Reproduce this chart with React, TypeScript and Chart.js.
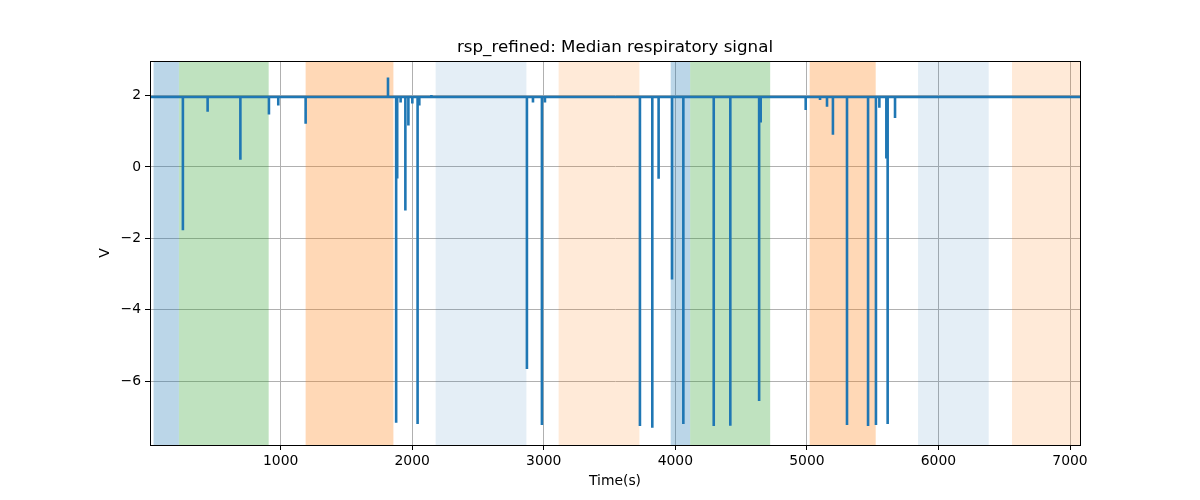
import React, { useEffect, useRef } from 'react';
import { Chart, registerables } from 'chart.js';

Chart.register(...registerables);

// time axis limits (s) and y limits (V)
const timeMin = 7;
const timeMax = 7076;
const voltMin = -7.79;
const voltMax = 2.97;

const timeTicks = [1000, 2000, 3000, 4000, 5000, 6000, 7000];
const voltTicks = [-6, -4, -2, 0, 2];

// resting level of the median signal
const baselineLevel = 1.96;

// short excursions away from the resting level
const spikeTimes = [
  257, 445, 694, 911, 982, 1190, 1816, 1878, 1886, 1912, 1948, 1971, 2001, 2041, 2054, 2146,
  2872, 2918, 2986, 3009, 3731, 3825, 3873, 3975, 4061, 4292, 4418, 4637, 4649, 4991, 5100,
  5153, 5198, 5305, 5465, 5525, 5551, 5604, 5614, 5670,
];
const spikeValues = [
  -1.77, 1.55, 0.2, 1.47, 1.72, 1.21, 2.51, -7.17, -0.32, 1.81, -1.22, 1.16, 1.78, -7.2, 1.72, 2.02,
  -5.66, 1.81, -7.23, 1.81, -7.26, -7.31, -0.33, -3.15, -7.2, -7.26, -7.25, -6.56, 1.25, 1.6, 1.88,
  1.69, 0.9, -7.23, -7.26, -7.23, 1.66, 0.24, -7.2, 1.37,
];

// shaded phases (s)
const phaseStarts = [34, 227, 1190, 2178, 3113, 3965, 4113, 5021, 5845, 6559];
const phaseEnds = [227, 909, 1857, 2868, 3727, 4113, 4721, 5523, 6382, 7076];
const phaseColors = [
  'rgba(31, 119, 180, 0.3)',
  'rgba(44, 160, 44, 0.3)',
  'rgba(255, 127, 14, 0.3)',
  'rgba(31, 119, 180, 0.12)',
  'rgba(255, 127, 14, 0.16)',
  'rgba(31, 119, 180, 0.3)',
  'rgba(44, 160, 44, 0.3)',
  'rgba(255, 127, 14, 0.3)',
  'rgba(31, 119, 180, 0.12)',
  'rgba(255, 127, 14, 0.16)',
];

const titleText = 'rsp_refined: Median respiratory signal';
const FONT = "'DejaVu Sans', sans-serif";

const formatTick = (v: number) => (v < 0 ? '\u2212' + Math.abs(v) : String(v));

// build the line table: resting level with vertical excursions
const buildSignal = () => {
  const pts: { x: number; y: number }[] = [{ x: timeMin, y: baselineLevel }];
  spikeTimes.forEach((t, i) => {
    pts.push({ x: t, y: baselineLevel });
    pts.push({ x: t, y: spikeValues[i] });
    pts.push({ x: t, y: baselineLevel });
  });
  pts.push({ x: timeMax, y: baselineLevel });
  return pts;
};

const phasePlugin = {
  id: 'phases',
  beforeDatasetsDraw(chart: any) {
    const { ctx, chartArea, scales } = chart;
    ctx.save();
    ctx.beginPath();
    ctx.rect(chartArea.left, chartArea.top, chartArea.right - chartArea.left, chartArea.bottom - chartArea.top);
    ctx.clip();
    phaseStarts.forEach((s, i) => {
      const x0 = scales.x.getPixelForValue(s);
      const x1 = scales.x.getPixelForValue(phaseEnds[i]);
      ctx.fillStyle = phaseColors[i];
      ctx.fillRect(x0, chartArea.top, x1 - x0, chartArea.bottom - chartArea.top);
    });
    ctx.restore();
  },
};

const framePlugin = {
  id: 'frame',
  afterDraw(chart: any) {
    const { ctx, chartArea } = chart;
    ctx.save();
    ctx.strokeStyle = '#000';
    ctx.lineWidth = 1;
    ctx.strokeRect(
      Math.round(chartArea.left) + 0.5,
      Math.round(chartArea.top) + 0.5,
      Math.round(chartArea.right - chartArea.left),
      Math.round(chartArea.bottom - chartArea.top)
    );
    // title centred over the plot area
    ctx.fillStyle = '#000';
    ctx.font = `16.7px ${FONT}`;
    ctx.textAlign = 'center';
    ctx.textBaseline = 'alphabetic';
    ctx.fillText(titleText, (chartArea.left + chartArea.right) / 2, 52);
    ctx.restore();
  },
};

const SignalChart: React.FC = () => {
  const chartRef = useRef<HTMLCanvasElement>(null);
  const chartInstance = useRef<Chart | null>(null);

  useEffect(() => {
    if (!chartRef.current) return;
    const ctx = chartRef.current.getContext('2d');
    if (!ctx) return;
    if (chartInstance.current) chartInstance.current.destroy();

    chartInstance.current = new Chart(ctx, {
      type: 'line',
      data: {
        datasets: [
          {
            label: 'rsp_refined',
            data: buildSignal(),
            borderColor: '#1f77b4',
            borderWidth: 2.6,
            borderJoinStyle: 'bevel',
            pointRadius: 0,
            tension: 0,
            fill: false,
          },
        ],
      },
      options: {
        responsive: true,
        maintainAspectRatio: false,
        animation: false,
        layout: { padding: { left: 0, right: 120, top: 61, bottom: 0 } },
        plugins: {
          legend: { display: false },
          tooltip: { enabled: false },
          title: { display: false },
        },
        scales: {
          x: {
            type: 'linear',
            min: timeMin,
            max: timeMax,
            afterBuildTicks: (scale: any) => {
              scale.ticks = timeTicks.map((v) => ({ value: v }));
            },
            afterFit: (scale: any) => {
              scale.height = 55;
            },
            grid: { color: '#b0b0b0', lineWidth: 1, tickLength: 5, tickColor: '#000' },
            border: { color: '#000', width: 1 },
            ticks: {
              color: '#000',
              padding: 3,
              maxRotation: 0,
              autoSkip: false,
              font: { family: FONT, size: 13.9 },
              callback: (v: any) => formatTick(Number(v)),
            },
            title: {
              display: true,
              text: 'Time(s)',
              color: '#000',
              font: { family: FONT, size: 13.9 },
              padding: { top: 0, bottom: 10 },
            },
          },
          y: {
            type: 'linear',
            min: voltMin,
            max: voltMax,
            afterBuildTicks: (scale: any) => {
              scale.ticks = voltTicks.map((v) => ({ value: v }));
            },
            afterFit: (scale: any) => {
              scale.width = 150;
            },
            grid: { color: '#b0b0b0', lineWidth: 1, tickLength: 5, tickColor: '#000' },
            border: { color: '#000', width: 1 },
            ticks: {
              color: '#000',
              padding: 4,
              autoSkip: false,
              font: { family: FONT, size: 13.9 },
              callback: (v: any) => formatTick(Number(v)),
            },
            title: {
              display: true,
              text: 'V',
              color: '#000',
              font: { family: FONT, size: 13.9 },
              padding: { top: 97, bottom: 0 },
            },
          },
        },
      },
      plugins: [phasePlugin, framePlugin],
    });

    return () => {
      if (chartInstance.current) {
        chartInstance.current.destroy();
        chartInstance.current = null;
      }
    };
  }, []);

  return (
    <div style={{ position: 'absolute', left: 0, top: 0, width: 1200, height: 500, background: '#fff' }}>
      <canvas ref={chartRef} />
    </div>
  );
};

export default function App() {
  return <SignalChart />;
}
